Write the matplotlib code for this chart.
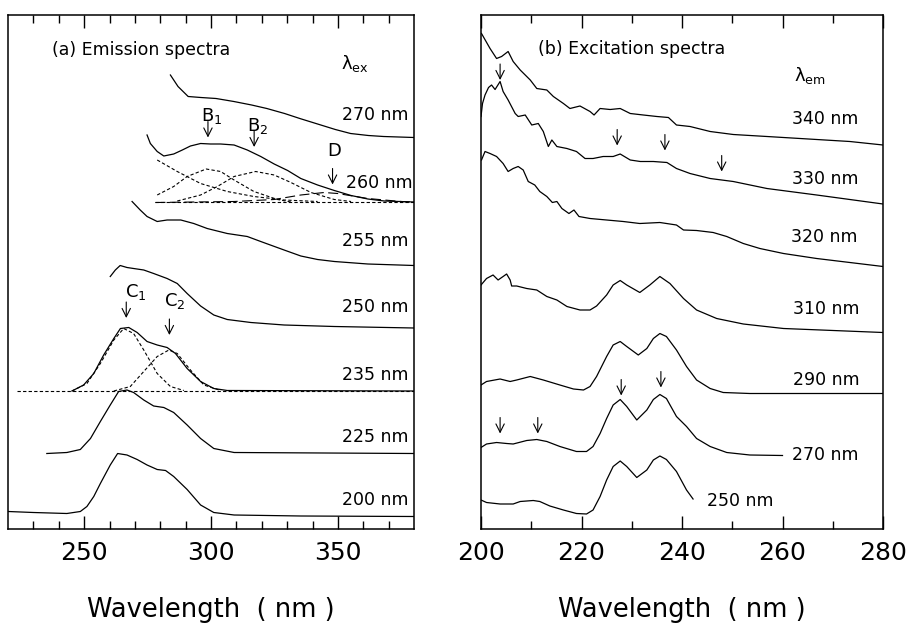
import matplotlib.pyplot as plt

plt.rcParams['font.family'] = ['DejaVu Sans']
plt.rcParams['mathtext.default'] = 'regular'

# ---- (a) emission spectra, wavelength (nm) vs intensity (arb. units, offset) ----
em270_x = [284, 287, 291, 296, 302, 309, 316, 322, 329, 335, 342, 349, 355, 362, 368, 380]
em270_y = [90.8, 88.5, 86.5, 86.3, 86.1, 85.5, 84.8, 84.1, 83.1, 82.1, 81.0, 79.9, 79.1, 78.7, 78.5, 78.3]

em260_x = [274.8, 276.1, 278.8, 281.4, 285.3, 288.7, 291.9, 295.9, 299.8, 303.8, 309.1, 314.3,
           319.6, 324.9, 330.2, 335.4, 342.0, 348.6, 355.2, 361.8, 368.3, 380]
em260_y = [78.8, 77.1, 75.5, 74.6, 75.0, 75.8, 76.6, 77.1, 77.0, 77.0, 76.8, 75.8,
           74.5, 73.0, 71.7, 70.1, 68.8, 67.7, 66.7, 66.0, 65.6, 65.4]
base260_x = [278, 380]
base260_y = [65.4, 65.4]
# gaussian components of the 260 nm spectrum
compA_x = [278.8, 286.7, 295.9, 306.4, 316.9, 328.8, 342.0]
compA_y = [73.8, 71.5, 69.1, 67.5, 66.5, 65.8, 65.5]
compB1_x = [278.8, 285.3, 290.6, 298.1, 303.8, 309.1, 316.9, 326.2, 331.5]
compB1_y = [66.8, 68.5, 70.5, 72.0, 71.5, 69.8, 67.5, 65.9, 65.4]
compB2_x = [286.7, 295.9, 302.5, 309.1, 317.6, 324.9, 331.5, 339.4, 348.6, 355.2]
compB2_y = [65.6, 66.8, 68.5, 70.5, 71.5, 70.8, 69.3, 67.3, 65.9, 65.5]
compD_x = [278.1, 309.1, 324.9, 335.4, 344.6, 349.9, 361.8, 374.9, 380]
compD_y = [65.3, 65.5, 65.9, 66.8, 67.3, 67.1, 66.1, 65.5, 65.4]

em255_x = [268.9, 272.1, 274.8, 278.8, 282.7, 288.1, 293.2, 298.5, 306.4, 314.3, 319.6,
           328.8, 335.4, 342.0, 348.6, 361.8, 380]
em255_y = [65.5, 63.8, 62.5, 61.5, 61.8, 61.8, 61.1, 60.1, 59.1, 58.5, 57.5,
           55.8, 54.6, 53.9, 53.5, 53.0, 52.7]

em250_x = [260.3, 262.3, 264.2, 266.9, 269.5, 273.5, 277.4, 282.7, 286.7, 290.6, 295.9,
           301.1, 306.4, 315.7, 328.8, 348.6, 380]
em250_y = [50.5, 51.8, 52.7, 52.3, 52.1, 51.8, 51.1, 50.1, 49.1, 47.1, 44.6,
           42.8, 41.9, 41.3, 40.8, 40.5, 40.2]

em235_x = [245.2, 249.8, 253.8, 257.7, 261.7, 264.3, 267.6, 270.9, 274.8, 278.8, 282.7,
           286.0, 290.6, 295.9, 301.1, 306.4, 380]
em235_y = [27.6, 28.8, 31.1, 34.8, 38.1, 40.1, 40.3, 39.3, 37.5, 36.8, 36.3,
           35.1, 32.1, 29.5, 28.1, 27.7, 27.6]
base235_x = [223.6, 380]
base235_y = [27.6, 27.6]
compC1_x = [245.2, 251.1, 256.4, 261.7, 265.6, 269.5, 273.5, 278.8, 284.0, 289.3]
compC1_y = [27.6, 29.1, 33.1, 37.8, 40.1, 39.1, 35.8, 31.1, 28.5, 27.7]
compC2_x = [261.7, 268.2, 273.5, 278.8, 283.4, 286.7, 291.9, 297.2, 303.8]
compC2_y = [27.6, 28.5, 31.5, 34.5, 35.8, 35.1, 31.8, 28.8, 27.7]

em225_x = [235.3, 243.2, 248.5, 252.5, 256.4, 260.3, 263.6, 266.9, 269.5, 273.5, 277.4,
           281.4, 285.3, 290.6, 295.9, 301.1, 309.1, 380]
em225_y = [15.1, 15.3, 15.9, 18.1, 21.5, 24.8, 27.5, 27.8, 27.3, 25.8, 24.6,
           24.3, 23.3, 20.8, 18.1, 16.1, 15.3, 15.1]

em200_x = [220.1, 230.0, 243.2, 248.5, 251.1, 253.8, 256.4, 260.3, 263.2, 266.9, 270.9,
           274.8, 278.8, 282.1, 285.3, 290.6, 295.9, 301.1, 309.1, 335.4, 380]
em200_y = [3.5, 3.3, 3.1, 3.5, 4.5, 6.5, 9.1, 12.8, 15.1, 14.8, 13.9,
           12.8, 11.9, 11.7, 10.5, 7.9, 4.8, 3.3, 2.8, 2.6, 2.5]

em_labels = ['270 nm', '260 nm', '255 nm', '250 nm', '235 nm', '225 nm', '200 nm']
em_label_y = [81.8, 68.3, 56.5, 43.3, 29.8, 17.3, 4.8]

# ---- (b) excitation spectra ----
ex340_x = [200.1, 201.8, 203.1, 204.1, 205.4, 206.4, 207.8, 209.8, 211.1, 213.1, 214.4, 216.4,
           217.7, 219.7, 221.7, 222.5, 223.7, 225.7, 227.7, 229.7, 232.3, 235.0, 237.3, 238.9,
           241.6, 245.6, 250.2, 256.9, 266.8, 273.4, 280]
ex340_y = [99.1, 96.1, 94.1, 94.5, 95.5, 93.5, 91.8, 89.8, 88.1, 87.8, 86.5, 85.1,
           84.1, 84.6, 83.5, 82.8, 84.1, 83.9, 84.1, 83.1, 82.8, 82.5, 82.3, 80.8,
           80.5, 79.5, 78.9, 78.5, 77.9, 77.5, 76.8]

ex330_x = [200.0, 200.3, 200.8, 201.5, 202.1, 202.8, 203.8, 204.4, 205.4, 206.8, 207.4, 208.8,
           210.1, 211.4, 212.4, 213.4, 214.1, 215.1, 217.1, 219.0, 220.7, 222.3, 224.3, 226.3,
           227.7, 229.7, 231.7, 234.3, 237.0, 238.9, 241.6, 245.6, 250.2, 256.9, 266.8, 273.4, 280]
ex330_y = [82.5, 85.1, 86.8, 88.3, 88.8, 87.9, 89.5, 87.5, 85.8, 83.1, 82.5, 82.8,
           80.8, 81.1, 79.5, 76.5, 77.8, 76.5, 76.1, 75.5, 74.1, 74.1, 74.5, 74.5,
           75.0, 73.8, 73.5, 73.5, 73.3, 72.1, 71.1, 70.1, 69.5, 68.1, 66.8, 65.9, 65.0]

ex320_x = [200.1, 200.8, 201.8, 203.1, 204.4, 205.4, 206.4, 207.4, 208.4, 209.4, 210.7, 211.7,
           213.1, 214.2, 215.1, 216.1, 217.5, 218.5, 219.5, 221.7, 225.0, 228.3, 231.6, 235.6,
           238.9, 240.3, 242.9, 246.2, 248.9, 252.2, 255.5, 260.2, 266.8, 273.4, 280]
ex320_y = [73.8, 75.5, 75.1, 74.5, 73.1, 71.5, 72.1, 72.5, 71.8, 69.5, 68.8, 67.5,
           66.5, 65.3, 65.5, 64.1, 63.1, 63.8, 62.5, 62.1, 61.8, 61.5, 61.1, 61.3,
           60.8, 59.8, 59.7, 59.3, 58.5, 57.1, 56.1, 55.1, 54.1, 53.3, 52.5]

ex310_x = [200.0, 201.1, 202.4, 203.4, 204.4, 205.1, 205.8, 206.1, 207.1, 209.1, 211.1, 213.1,
           215.1, 217.1, 219.7, 221.7, 223.0, 225.0, 226.3, 227.7, 229.0, 231.6, 233.6, 235.6,
           237.6, 240.3, 242.9, 246.9, 252.2, 260.2, 270.1, 280]
ex310_y = [48.8, 50.1, 50.8, 49.8, 50.5, 51.0, 49.8, 48.6, 48.6, 48.1, 47.8, 46.5,
           45.8, 44.5, 43.8, 43.8, 44.6, 46.8, 48.8, 49.7, 48.8, 47.3, 48.8, 50.5,
           49.1, 46.1, 43.8, 42.1, 41.0, 40.1, 39.7, 39.3]

ex290_x = [200.0, 201.1, 203.8, 205.8, 207.1, 209.8, 212.4, 215.7, 218.4, 220.4, 221.7, 223.0,
           225.0, 226.3, 227.7, 229.0, 231.3, 233.0, 234.3, 235.6, 236.9, 238.9, 240.9, 242.9,
           245.6, 248.2, 253.5, 280]
ex290_y = [28.8, 29.5, 30.0, 29.5, 29.8, 30.5, 29.8, 28.8, 28.0, 27.8, 28.5, 30.5,
           34.5, 36.8, 37.5, 36.5, 34.8, 36.1, 38.1, 39.1, 38.5, 35.8, 32.5, 29.8,
           28.1, 27.3, 27.1, 27.1]

ex270_x = [200.0, 201.1, 203.1, 205.1, 206.4, 209.1, 211.1, 213.1, 215.7, 219.0, 221.0, 222.3,
           223.7, 225.0, 226.3, 227.7, 229.0, 231.0, 233.0, 234.3, 235.6, 236.9, 238.9, 240.9,
           242.9, 245.6, 248.9, 253.5, 260.0]
ex270_y = [16.3, 17.0, 17.3, 17.1, 17.0, 17.7, 17.9, 17.5, 16.5, 15.5, 15.5, 16.5,
           19.1, 22.1, 24.8, 25.9, 24.5, 21.8, 23.8, 25.9, 26.9, 26.1, 22.5, 20.5,
           18.1, 16.5, 15.3, 14.8, 14.7]

ex250_x = [200.0, 201.1, 203.8, 206.4, 207.8, 210.4, 211.7, 213.7, 216.4, 219.0, 221.0, 222.3,
           223.7, 225.0, 226.3, 227.7, 229.0, 231.0, 233.0, 234.3, 235.6, 236.9, 238.9, 240.9, 242.2]
ex250_y = [5.8, 5.3, 5.0, 5.0, 5.5, 5.7, 5.5, 4.6, 3.8, 3.1, 3.0, 3.8,
           6.5, 9.8, 12.5, 13.6, 12.5, 10.3, 11.8, 13.8, 14.6, 13.9, 11.5, 7.8, 6.0]

ex_labels = ['340 nm', '330 nm', '320 nm', '310 nm', '290 nm', '270 nm', '250 nm']
ex_label_x = [261.8, 261.8, 261.6, 262.0, 262.0, 261.8, 244.9]
ex_label_y = [81.1, 69.1, 57.3, 43.0, 28.8, 13.9, 4.6]

# peak marker arrows (x, centre y)
em_arrows = [(298.8, 79.9), (317.0, 78.0), (347.9, 70.5), (266.6, 43.8), (283.6, 40.4)]
ex_arrows = [(203.8, 91.4), (227.1, 78.3), (236.6, 77.3), (247.9, 73.1),
             (227.9, 28.3), (235.8, 29.9), (203.8, 20.7), (211.3, 20.7)]

fig = plt.figure(figsize=(9.09, 6.27), dpi=100)
ax1 = fig.add_axes([8 / 909, 98 / 627, 406 / 909, 514 / 627])
ax2 = fig.add_axes([481 / 909, 98 / 627, 402 / 909, 514 / 627])

for ax in (ax1, ax2):
    ax.set_ylim(0, 102.8)
    ax.set_yticks([])
    ax.tick_params(axis='x', which='both', direction='in', top=True, labelsize=18, pad=9)
    ax.tick_params(axis='x', which='major', length=9.5, width=1)
    ax.tick_params(axis='x', which='minor', length=6, width=1)
    for s in ax.spines.values():
        s.set_linewidth(1.1)
    ax.set_xlabel('Wavelength  ( nm )', fontsize=18.5)
    ax.xaxis.set_label_coords(0.5, -0.133)

ax1.set_xlim(220, 380)
ax1.set_xticks([250, 300, 350])
ax1.set_xticks([230, 240, 260, 270, 280, 290, 310, 320, 330, 340, 360, 370], minor=True)
ax2.set_xlim(200, 280)
ax2.set_xticks([200, 220, 240, 260, 280])
ax2.set_xticks([210, 230, 250, 270], minor=True)

lw = 0.9
short = (0, (3, 2))
for x, y in [(em270_x, em270_y), (em260_x, em260_y), (em255_x, em255_y), (em250_x, em250_y),
             (em235_x, em235_y), (em225_x, em225_y), (em200_x, em200_y)]:
    ax1.plot(x, y, color='k', lw=lw)
for x, y in [(base260_x, base260_y), (compA_x, compA_y), (compB1_x, compB1_y),
             (compB2_x, compB2_y), (base235_x, base235_y), (compC1_x, compC1_y),
             (compC2_x, compC2_y)]:
    ax1.plot(x, y, color='k', lw=0.8, ls=short)
ax1.plot(compD_x, compD_y, color='k', lw=0.8, ls=(0, (9, 4)))

for x, y in [(ex340_x, ex340_y), (ex330_x, ex330_y), (ex320_x, ex320_y), (ex310_x, ex310_y),
             (ex290_x, ex290_y), (ex270_x, ex270_y), (ex250_x, ex250_y)]:
    ax2.plot(x, y, color='k', lw=lw)

fs = 12.5
for lab, yy in zip(em_labels, em_label_y):
    ax1.text(377.8 if lab != '260 nm' else 379.6, yy, lab, ha='right', va='baseline', fontsize=fs)
for lab, xx, yy in zip(ex_labels, ex_label_x, ex_label_y):
    ax2.text(xx, yy, lab, ha='left', va='baseline', fontsize=fs)

ax1.text(237.3, 94.8, '(a) Emission spectra', fontsize=fs, va='baseline')
ax2.text(211.4, 95.1, '(b) Excitation spectra', fontsize=fs, va='baseline')
ax1.text(351.2, 92.1, 'λ$_{ex}$', fontsize=13, va='baseline')
ax2.text(262.2, 89.5, 'λ$_{em}$', fontsize=13, va='baseline')

ax1.text(295.9, 81.7, 'B$_1$', fontsize=13, va='baseline')
ax1.text(314.3, 79.7, 'B$_2$', fontsize=13, va='baseline')
ax1.text(346.0, 74.6, 'D', fontsize=13, va='baseline')
ax1.text(266.2, 46.3, 'C$_1$', fontsize=13, va='baseline')
ax1.text(281.4, 44.6, 'C$_2$', fontsize=13, va='baseline')

arrow_style = dict(arrowstyle='->, head_length=0.5, head_width=0.25', lw=0.8, color='k',
                   shrinkA=0, shrinkB=0, mutation_scale=12)
for ax, arrows in ((ax1, em_arrows), (ax2, ex_arrows)):
    for x, y in arrows:
        ax.annotate('', xy=(x, y - 1.6), xytext=(x, y + 1.6), arrowprops=arrow_style)

fig.savefig('out.png', dpi=100)
